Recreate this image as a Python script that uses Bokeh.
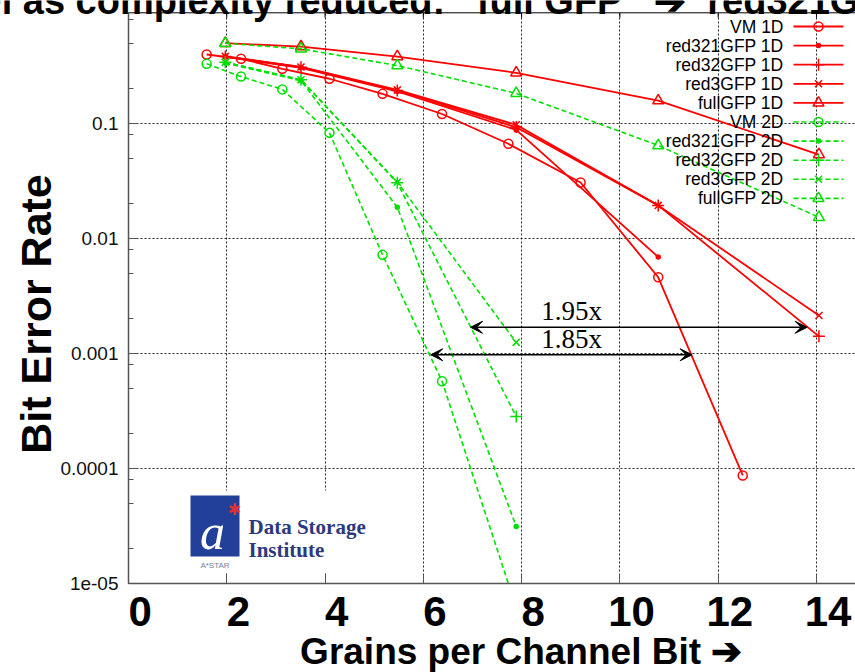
import math
from bokeh.plotting import figure
from bokeh.models import (FixedTicker, Label, Arrow, VeeHead, BoxAnnotation, Range1d)
from bokeh.core.properties import value
from bokeh.embed import file_html
from bokeh.resources import INLINE

# ---------------- data ----------------
gfp_x = [1.97, 3.51, 5.47, 7.89, 10.78, 14.05]
vm_x = [1.59, 2.29, 3.13, 4.09, 5.17, 6.38, 7.73, 9.20, 10.78, 12.50]

vm_1d = [0.398, 0.365, 0.299, 0.245, 0.181, 0.121, 0.0666, 0.0307, 0.0046, 8.7e-5]
red321_1d = [0.380, 0.305, 0.190, 0.088, 0.0069]
red32_1d = [0.383, 0.309, 0.194, 0.093, 0.0194, 0.00141]
red3_1d = [0.383, 0.310, 0.196, 0.0975, 0.0194, 0.00214]
full_1d = [0.499, 0.467, 0.382, 0.276, 0.158, 0.0537]

vm_2d = [0.330, 0.256, 0.198, 0.083, 0.00721, 5.74e-4, 1.0e-5]
red321_2d = [0.335, 0.236, 0.0187, 3.13e-5]
red32_2d = [0.341, 0.240, 0.0305, 2.83e-4]
red3_2d = [0.341, 0.240, 0.0309, 0.00125]
full_2d = [0.499, 0.446, 0.319, 0.183, 0.0644, 0.0153]

series_labels = ["VM 1D", "red321GFP 1D", "red32GFP 1D", "red3GFP 1D", "fullGFP 1D",
                 "VM 2D", "red321GFP 2D", "red32GFP 2D", "red3GFP 2D", "fullGFP 2D"]

x_ticks = [0, 2, 4, 6, 8, 10, 12, 14]
y_ticks = [1e-5, 1e-4, 1e-3, 1e-2, 1e-1]
y_tick_labels = ["1e-05", "0.0001", "0.001", "0.01", "0.1"]
y_minor = [m * d for d in [1e-5, 1e-4, 1e-3, 1e-2, 1e-1] for m in (2, 5, 8)]

arrow_labels = ["1.95x", "1.85x"]
arrow_y = [0.00169, 0.000975]
arrow_x0 = [6.96, 6.15]
arrow_x1 = [13.81, 11.47]

title_text = ("el as complexity reduced:\u00a0\u00a0\u00a0full GFP\u00a0\u00a0\u00a0"
              "\u2794\u00a0\u00a0red321GFP")
x_title = "Grains per Channel Bit \u2794"
y_title = "Bit Error Rate"

# ---------------- layout helpers (picture pixels -> data) ----------------
W, H = 855, 672
FRAME_L, FRAME_B, BORDER_T = 128, 583, 12.3
PX_UNIT, PX_DEC, Y1_PX = 49.14, 115.0, 8.0
NB = "\u00a0"


def X(px):
    return (px - FRAME_L) / PX_UNIT


def Y(py):
    return 10 ** (-(py - Y1_PX) / PX_DEC)


RED = "#ff0000"
GREEN = "#00e000"

# the plotting frame spans the whole canvas (the source picture is a crop);
# both axes are pinned at x = 0 and y = 1e-5
p = figure(width=W, height=H,
           x_range=Range1d(X(0), X(W)),
           y_range=Range1d(Y(H), Y(0)),
           y_axis_type="log", output_backend="svg", toolbar_location=None,
           min_border_left=0, min_border_right=0, min_border_top=0, min_border_bottom=0)
p.outline_line_color = None
p.background_fill_color = "white"
p.border_fill_color = "white"

# axes
p.xaxis.ticker = FixedTicker(ticks=x_ticks)
p.xaxis.major_label_overrides = {t: NB * 2 + str(t) for t in x_ticks}
p.xaxis.bounds = (0, X(W))
p.xaxis.fixed_location = 1e-5
p.yaxis.ticker = FixedTicker(ticks=y_ticks, minor_ticks=y_minor)
p.yaxis.major_label_overrides = {t: l for t, l in zip(y_ticks, y_tick_labels)}
p.yaxis.bounds = (1e-5, Y(BORDER_T))
p.yaxis.fixed_location = 0
for ax in (p.xaxis[0], p.yaxis[0]):
    ax.axis_line_color = "#555555"
    ax.axis_line_width = 1.5
    ax.major_tick_line_color = "#555555"
    ax.minor_tick_line_color = "#555555"
    ax.major_tick_in = 9
    ax.major_tick_out = 0
    ax.minor_tick_in = 5
    ax.minor_tick_out = 0
p.xaxis.major_label_text_font = "Liberation Sans"
p.xaxis.major_label_text_font_style = "bold"
p.xaxis.major_label_text_font_size = "42px"
p.xaxis.major_label_text_color = "black"
p.xaxis.major_label_standoff = 4

p.yaxis.major_label_text_font = "Liberation Sans"
p.yaxis.major_label_text_font_size = "19px"
p.yaxis.major_label_text_color = "#111111"
p.yaxis.major_label_standoff = 10

p.grid.grid_line_color = "black"
p.grid.grid_line_dash = "2 2"
p.grid.grid_line_alpha = 0.85
p.ygrid.minor_grid_line_color = None
try:
    p.xgrid.cross_bounds = (1e-5, Y(BORDER_T))
    p.ygrid.cross_bounds = (0, X(W))
except Exception:
    pass

# axis titles
p.add_layout(Label(x=X(35), y=Y(313.5), text=y_title, angle=math.pi / 2,
                   text_font="Liberation Sans", text_font_style="bold", text_font_size="43px",
                   text_color="black", text_align="center", text_baseline="middle"))
p.add_layout(Label(x=X(520.7), y=Y(651), text=x_title,
                   text_font="Liberation Sans", text_font_style="bold", text_font_size="37px",
                   text_color="black", text_align="center", text_baseline="middle"))

# top border with small inward ticks
p.line([0, X(W)], [Y(BORDER_T), Y(BORDER_T)], line_color="black", line_width=1)
p.segment(x0=x_ticks, x1=x_ticks, y0=Y(BORDER_T), y1=Y(BORDER_T + 5),
          line_color="black", line_width=1)

# series
series = [
    (series_labels[0], vm_x, vm_1d, RED, "solid", "circle", 9, False),
    (series_labels[1], gfp_x, red321_1d, RED, "solid", "circle", 4, True),
    (series_labels[2], gfp_x, red32_1d, RED, "solid", "cross", 12, False),
    (series_labels[3], gfp_x, red3_1d, RED, "solid", "x", 10, False),
    (series_labels[4], gfp_x, full_1d, RED, "solid", "triangle", 11, False),
    (series_labels[5], vm_x, vm_2d, GREEN, "5 3", "circle", 9, False),
    (series_labels[6], gfp_x, red321_2d, GREEN, "5 3", "circle", 4, True),
    (series_labels[7], gfp_x, red32_2d, GREEN, "5 3", "cross", 12, False),
    (series_labels[8], gfp_x, red3_2d, GREEN, "5 3", "x", 10, False),
    (series_labels[9], gfp_x, full_2d, GREEN, "5 3", "triangle", 11, False),
]

leg_text_px, leg_l_px, leg_r_px, leg_m_px = 783, 793, 843, 818
leg_rows = [26 + 19.1 * i for i in range(len(series))]

for (lab, xs, ys, col, dash, mk, sz, filled), row in zip(series, leg_rows):
    xx = xs[:len(ys)]
    lw = 1.8 if dash == "solid" else 1.6
    p.line(xx, ys, line_color=col, line_width=lw, line_dash=dash)
    # the last VM 2D point lies on the lower edge of the source plot: no marker there
    mx, my = (xx[:-1], ys[:-1]) if lab == "VM 2D" else (xx, ys)
    p.scatter(mx, my, marker=mk, size=sz, line_color=col, line_width=1.5,
              fill_color=col if filled else None)
    # legend sample
    p.line([X(leg_l_px), X(leg_r_px)], [Y(row), Y(row)], line_color=col,
           line_width=lw, line_dash=dash)
    p.scatter([X(leg_m_px)], [Y(row)], marker=mk, size=sz, line_color=col,
              line_width=1.5, fill_color=col if filled else None)

p.text(x=[X(leg_text_px)] * len(series), y=[Y(r) for r in leg_rows], text=series_labels,
       text_align="right", text_baseline="middle", text_font=value("Liberation Sans"),
       text_font_size="17.5px", text_color="black")

# arrows + factors
for lab, yy, x0, x1 in zip(arrow_labels, arrow_y, arrow_x0, arrow_x1):
    p.add_layout(Arrow(start=VeeHead(size=12, fill_color="black", line_color="black", line_width=1),
                       end=VeeHead(size=12, fill_color="black", line_color="black", line_width=1),
                       x_start=x0, y_start=yy, x_end=x1, y_end=yy,
                       line_color="black", line_width=1.5))
for lab, cy in zip(arrow_labels, [310.9, 338.6]):
    p.add_layout(Label(x=X(571), y=Y(cy), text=lab, text_font="Liberation Serif",
                       text_font_size="27px", text_align="center", text_baseline="middle",
                       text_color="black"))

# logo
p.add_layout(BoxAnnotation(left=X(186.7), right=X(376.7), top=Y(490), bottom=Y(571.7),
                           fill_color="white", fill_alpha=1.0, line_color=None))
p.add_layout(BoxAnnotation(left=X(190), right=X(239), top=Y(495), bottom=Y(556),
                           fill_color="#22409a", fill_alpha=1.0, line_color=None))
p.add_layout(Label(x=X(212), y=Y(531), text="a", text_font="Liberation Serif",
                   text_font_style="italic", text_font_size="50px", text_color="white",
                   text_align="center", text_baseline="middle"))
p.add_layout(Label(x=X(234), y=Y(508.5), text="\u2731", text_font="DejaVu Sans",
                   text_font_size="16px", text_color="#e0303a",
                   text_align="center", text_baseline="middle"))
p.add_layout(Label(x=X(214.5), y=Y(565), text="A*STAR", text_font="Liberation Sans",
                   text_font_size="8px", text_color="#7080a0",
                   text_align="center", text_baseline="middle"))
p.add_layout(Label(x=X(248), y=Y(526.2), text="Data Storage", text_font="Liberation Serif",
                   text_font_style="bold", text_font_size="21px", text_color="#2c3a7c",
                   text_align="left", text_baseline="middle"))
p.add_layout(Label(x=X(248), y=Y(549.6), text="Institute", text_font="Liberation Serif",
                   text_font_style="bold", text_font_size="21px", text_color="#2c3a7c",
                   text_align="left", text_baseline="middle"))

# title (cropped at the top of the picture, as in the source)
p.add_layout(Label(x=X(-20), y=Y(0), text=title_text,
                   text_font="Liberation Sans", text_font_style="bold", text_font_size="38px",
                   text_color="black", text_align="left", text_baseline="middle"))

open("out.html", "w").write(file_html(p, INLINE))
